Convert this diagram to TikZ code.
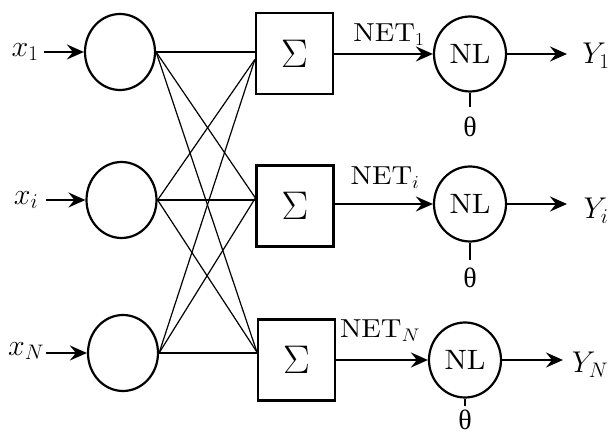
\RequirePackage{fix-cm}
\documentclass[tikz,border=0pt]{standalone}
\usepackage{fontspec}
\usepackage{graphicx}
\setmainfont{lmroman10-regular.otf}[ItalicFont=lmroman10-italic.otf,BoldFont=lmroman10-bold.otf]
\newfontfamily\thetafont{Liberation Serif}
\usetikzlibrary{arrows.meta,calc,shapes.geometric}
\newcommand{\wide}[2]{\scalebox{#1}[1]{#2}}
\begin{document}
\begin{tikzpicture}[x=1pt,y=1pt,
  line width=2.2pt,
  incirc/.style={draw, ellipse, minimum width=70pt, minimum height=76pt, inner sep=0pt},
  sumbox/.style={draw, rectangle, minimum width=77pt, minimum height=81pt, inner sep=0pt, font=\fontsize{40}{44}\selectfont},
  nlcirc/.style={draw, ellipse, minimum width=72pt, minimum height=75pt, inner sep=0pt, font=\fontsize{28}{32}\selectfont},
  lbl/.style={inner sep=0pt, font=\fontsize{30}{34}\selectfont},
  netlbl/.style={inner sep=0pt, font=\fontsize{26}{30}\selectfont},
  thlbl/.style={inner sep=0pt, font=\thetafont\fontsize{28}{31}\selectfont},
  arr/.style={-{Stealth[length=17pt,width=15pt,inset=6pt]}},
  cross/.style={line width=1.2pt}
]
\useasboundingbox (0,0) rectangle (611,436);
% input neurons
\node[incirc] (c1) at (120,384) {};
\node[incirc] (c2) at (121.5,236) {};
\node[incirc] (c3) at (123,83) {};
% summation boxes
\node[sumbox] (s1) at (294.5,382.5) {$\Sigma$};
\node[sumbox] (s2) at (295,230) {$\Sigma$};
\node[sumbox] (s3) at (296.5,76) {$\Sigma$};
% nonlinear units
\node[nlcirc] (n1) at (470,382) {\wide{1.06}{NL}};
\node[nlcirc] (n2) at (470,232) {\wide{1.06}{NL}};
\node[nlcirc] (n3) at (465,76) {\wide{1.06}{NL}};
% input labels
\node[lbl] (x1) at (25,384) {$x_1$};
\node[lbl] (xi) at (26,236) {$x_i$};
\node[lbl] (xN) at (26,85) {$x_N$};
\coordinate (a1) at (44,384);
\coordinate (a2) at (46,236);
\coordinate (a3) at (46,83);
\draw[arr] (a1) -- (c1.west);
\draw[arr] (a2) -- (c2.west);
\draw[arr] (a3) -- (c3.west);
% entry points on boxes
\coordinate (e1) at (c1.east -| s1.west);
\coordinate (e2) at (c2.east -| s2.west);
\coordinate (e3) at (c3.east -| s3.west);
\coordinate (f1) at ($(s1.west)+(0,-6)$);
\coordinate (f2) at ($(s2.west)+(0,8)$);
\coordinate (f3) at ($(s3.west)+(0,8)$);
% straight connections
\draw (c1.east) -- (e1);
\draw (c2.east) -- (e2);
\draw (c3.east) -- (e3);
% cross connections
\draw[cross] (c1.east) -- (f2);
\draw[cross] (c1.east) -- (f3);
\draw[cross] (c2.east) -- (f1);
\draw[cross] (c2.east) -- (f3);
\draw[cross] (c3.east) -- (f1);
\draw[cross] (c3.east) -- (f2);
% NET connections
\draw[arr] (s1.east |- n1.west) -- (n1.west);
\draw[arr] (s2.east |- n2.west) -- (n2.west);
\draw[arr] (s3.east |- n3.west) -- (n3.west);
\node[netlbl] (net1) at (389,401) {\wide{1.1}{NET$_1$}};
\node[netlbl] (neti) at (385,258) {\wide{1.1}{NET$_i$}};
\node[netlbl] (netN) at (380,105) {\wide{1.1}{NET$_N$}};
% outputs
\coordinate (o1) at (567,382);
\coordinate (o2) at (567,230);
\coordinate (o3) at (563,76);
\draw[arr] (n1.east) -- (n1.east -| o1);
\draw[arr] (n2.east) -- (n2.east -| o2);
\draw[arr] (n3.east) -- (n3.east -| o3);
\node[lbl] (y1) at (596,380) {$Y_1$};
\node[lbl] (yi) at (596,225) {$Y_i$};
\node[lbl] (yN) at (590,71) {$Y_N$};
% thresholds
\coordinate (t1) at (470,329);
\coordinate (t2) at (470,176);
\coordinate (t3) at (465,30);
\draw (n1.south) -- (t1);
\draw (n2.south) -- (t2);
\draw (n3.south) -- (t3);
\node[thlbl] (th1) at (470,309) {θ};
\node[thlbl] (th2) at (470,158) {θ};
\node[thlbl] (th3) at (465,16) {θ};
\end{tikzpicture}
\end{document}
